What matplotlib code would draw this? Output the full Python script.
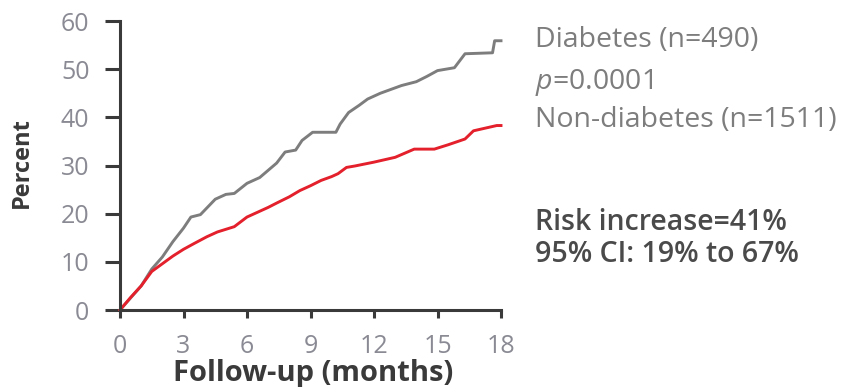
import matplotlib
matplotlib.use("Agg")
import matplotlib.pyplot as plt

# cumulative incidence (%) (curve vertices)
diab_t = [0, 0.5, 1.0, 1.5, 2.0, 2.5, 3.0, 3.35, 3.8, 4.5, 5.0, 5.4, 6.0,
          6.6, 7.0, 7.4, 7.8, 8.3, 8.6, 9.1, 10.2, 10.4, 10.8, 11.3, 11.7,
          12.3, 12.8, 13.3, 14.0, 14.5, 15.0, 15.8, 16.3, 17.6, 17.7, 18.0]
diab_y = [0, 2.5, 5.0, 8.5, 11.0, 14.2, 17.0, 19.3, 19.8, 23.0, 24.0, 24.2,
          26.3, 27.5, 29.0, 30.5, 32.8, 33.2, 35.2, 36.9, 36.9, 38.6, 41.0,
          42.5, 43.8, 45.0, 45.8, 46.6, 47.4, 48.5, 49.7, 50.3, 53.2, 53.4,
          55.9, 55.9]

nond_t = [0, 0.5, 1.0, 1.5, 2.0, 2.5, 3.0, 3.5, 4.1, 4.6, 5.4, 6.0, 6.5,
          7.0, 7.4, 8.0, 8.5, 9.0, 9.5, 10.0, 10.3, 10.7, 11.1, 12.0, 13.0,
          13.9, 14.85, 15.5, 16.3, 16.7, 17.3, 17.8, 18.0]
nond_y = [0, 2.6, 5.0, 8.0, 9.6, 11.2, 12.6, 13.8, 15.2, 16.2, 17.3, 19.3,
          20.3, 21.3, 22.2, 23.5, 24.8, 25.8, 26.9, 27.7, 28.3, 29.6, 29.9,
          30.7, 31.7, 33.4, 33.4, 34.3, 35.5, 37.2, 37.8, 38.3, 38.3]

x_ticks = [0, 3, 6, 9, 12, 15, 18]
y_ticks = [0, 10, 20, 30, 40, 50, 60]

GREY = "#7d7d7d"
RED = "#e3202b"
DARK = "#3a3a3a"
TICK_TXT = "#8a8a94"

plt.rcParams.update({
    "font.family": ["Open Sans", "DejaVu Sans"],
    "mathtext.fontset": "custom",
    "mathtext.it": "Open Sans:italic",
    "mathtext.rm": "Open Sans",
})

fig = plt.figure(figsize=(8.44, 3.87), dpi=100)
ax = fig.add_axes([120 / 844, 1 - 310 / 387, 381 / 844, 289 / 387])

ax.plot(diab_t, diab_y, color=GREY, lw=2.1, clip_on=False)
ax.plot(nond_t, nond_y, color=RED, lw=2.1, clip_on=False)

ax.set_xlim(0, 18)
ax.set_ylim(0, 60)
ax.set_xticks(x_ticks)
ax.set_yticks(y_ticks)
for s in ["top", "right"]:
    ax.spines[s].set_visible(False)
for s in ["left", "bottom"]:
    ax.spines[s].set_color(DARK)
    ax.spines[s].set_linewidth(2.2)
ax.tick_params(axis="y", length=11, width=2.2, color=DARK, labelsize=18,
               labelcolor=TICK_TXT, pad=11)
ax.tick_params(axis="x", length=6, width=2.2, color=DARK, labelsize=18,
               labelcolor=TICK_TXT, pad=11)

# axis titles placed directly to follow the reference spacing
fig.text(22 / 844, 1 - 163 / 387, "Percent", fontsize=17, fontweight="bold",
         color=DARK, rotation=90, ha="center", va="center")
fig.text(313 / 844, 1 - 359 / 387, "Follow-up (months)", fontsize=21,
         fontweight="bold", color=DARK, ha="center", va="top")

fig.text(535 / 844, 1 - 40 / 387, "Diabetes (n=490)", fontsize=20.5,
         color=GREY, va="center")
fig.text(535 / 844, 1 - 82 / 387, "$p$=0.0001", fontsize=20.5,
         color=GREY, va="center")
fig.text(535 / 844, 1 - 120 / 387, "Non-diabetes (n=1511)", fontsize=20.5,
         color=GREY, va="center")
fig.text(535 / 844, 1 - 223 / 387, "Risk increase=41%", fontsize=20.5,
         fontweight="semibold", color="#4a4a4a", va="center")
fig.text(535 / 844, 1 - 254 / 387, "95% CI: 19% to 67%", fontsize=20.5,
         fontweight="semibold", color="#4a4a4a", va="center")

fig.savefig("out.png", dpi=100)
